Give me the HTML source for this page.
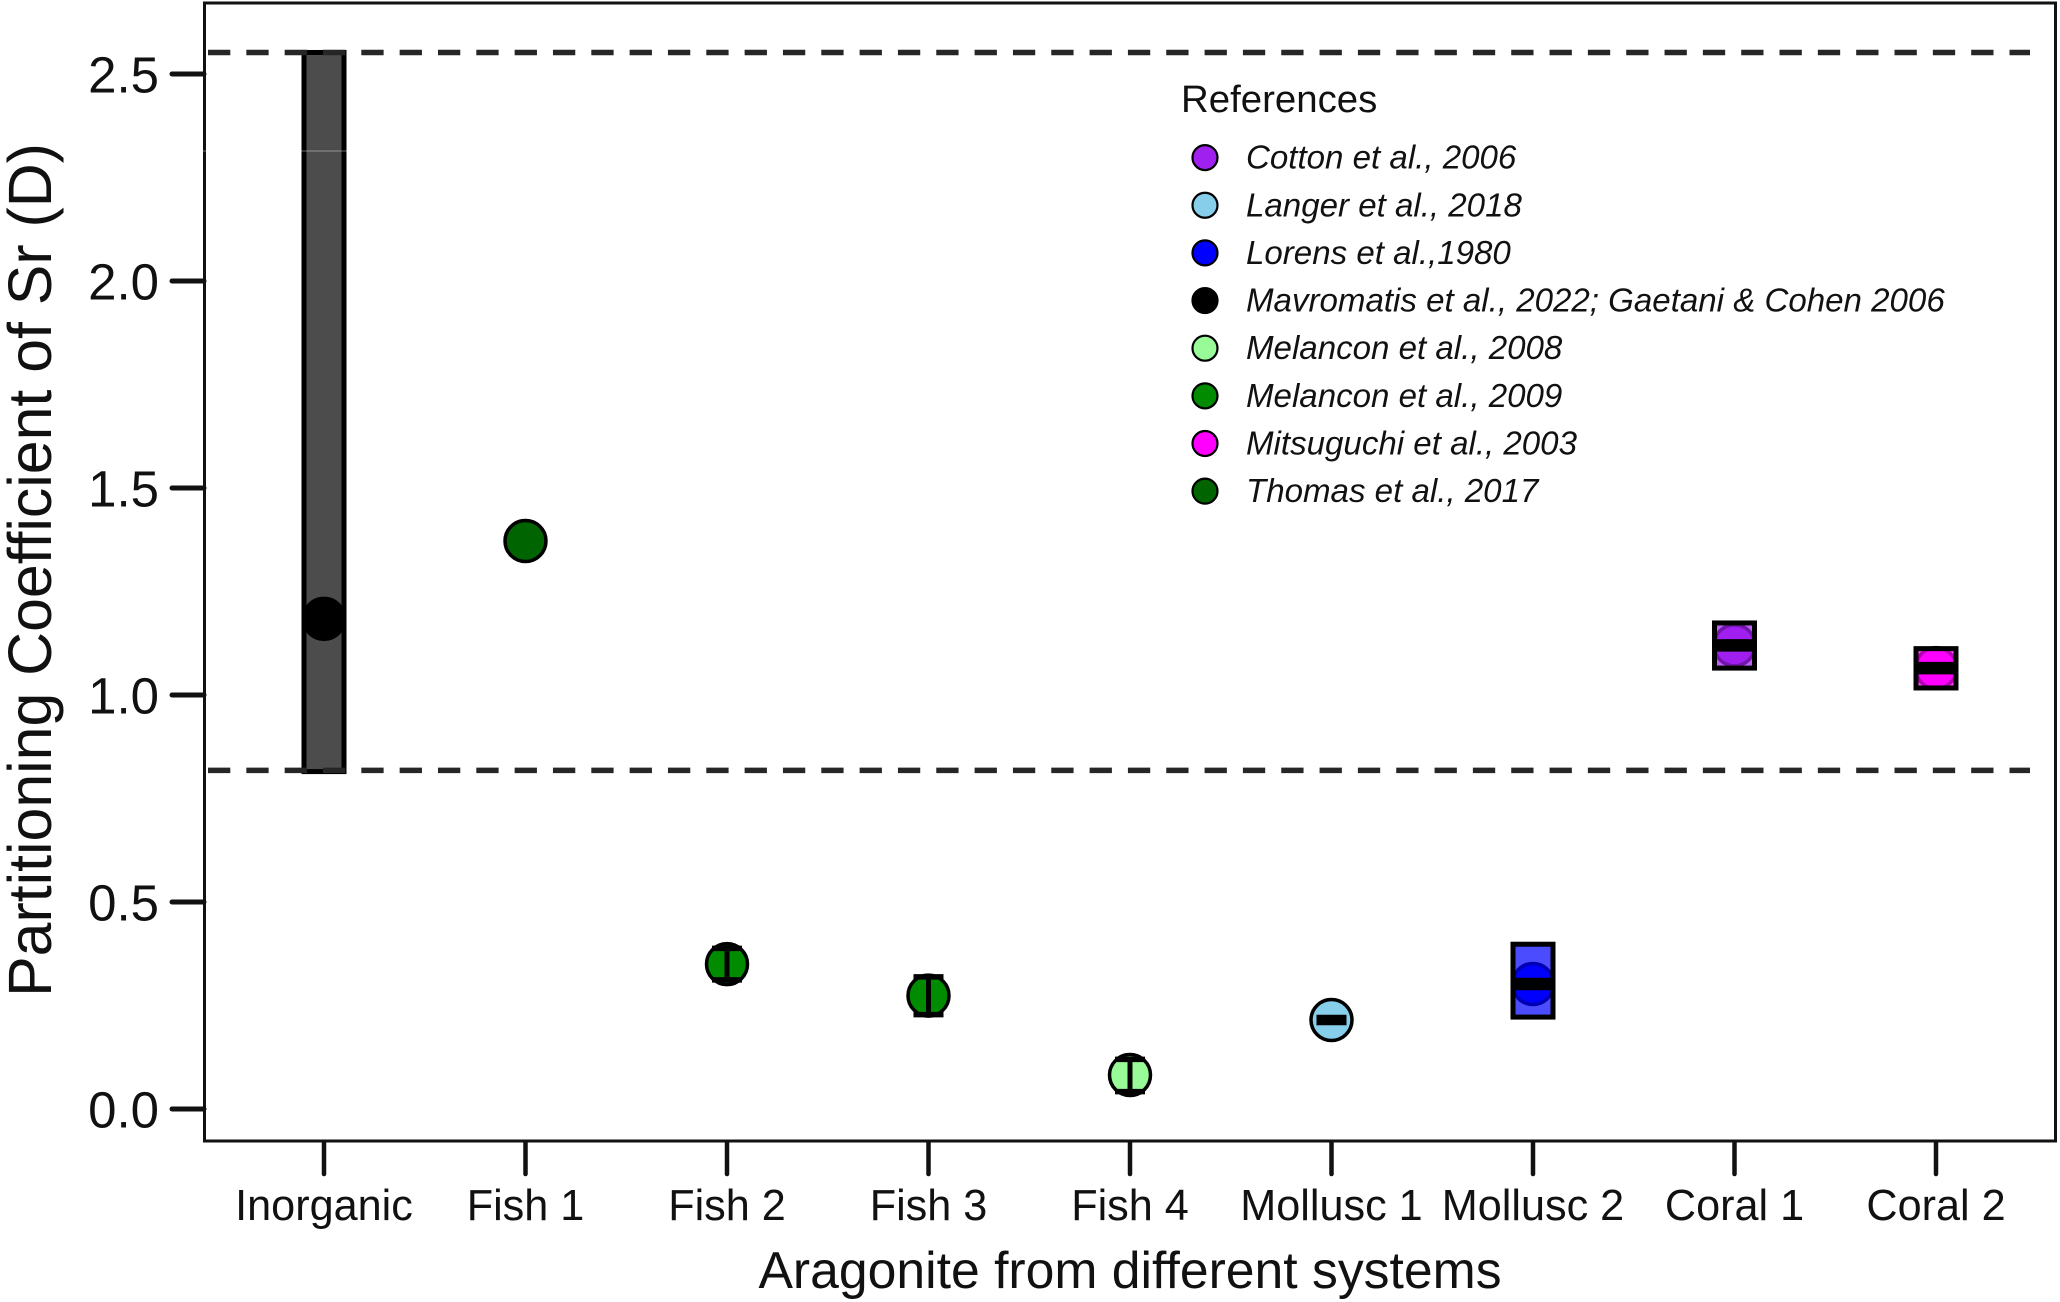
<!DOCTYPE html>
<html lang="en">
<head>
<meta charset="utf-8">
<title>Partitioning Coefficient of Sr in Aragonite</title>
<style>
html,body{margin:0;padding:0;background:#fff;}
svg{display:block;}
text{font-family:"Liberation Sans",Arial,sans-serif;fill:#111;}
</style>
</head>
<body>
<svg id="chart" xmlns="http://www.w3.org/2000/svg" width="2060" height="1302" viewBox="0 0 2060 1302">
  <rect x="0" y="0" width="2060" height="1302" fill="#fff"/>
  <g id="layer-marks"></g>
  <g id="layer-refs"></g>
  <rect x="204.5" y="3" width="1851" height="1138" fill="none" stroke="#111" stroke-width="3"/>
  <line x1="200" x2="350" y1="151" y2="151" stroke="#fff" stroke-opacity="0.4" stroke-width="1"/>
  <g id="layer-axes"></g>
  <g id="layer-legend">
    <text x="1181" y="112" font-size="38.4">References</text>
  </g>
  <text transform="translate(51,570) rotate(-90)" text-anchor="middle" font-size="60.8">Partitioning Coefficient of Sr (D)</text>
  <text x="1130" y="1288" text-anchor="middle" font-size="51.7">Aragonite from different systems</text>
</svg>
<script>
const categories = ['Inorganic','Fish 1','Fish 2','Fish 3','Fish 4','Mollusc 1','Mollusc 2','Coral 1','Coral 2'];
const values = [1.184,1.372,0.350,0.274,0.082,0.215,0.302,1.120,1.065];
const lowers = [0.815,1.372,0.312,0.228,0.042,0.209,0.222,1.065,1.017];
const uppers = [2.552,1.372,0.388,0.319,0.120,0.221,0.398,1.174,1.112];
const intervalKinds = ['box','none','bar','bar','bar','bar','box','box','box'];
const sourceIndex = [3,7,5,5,4,1,2,0,6];
const legendLabels = ['Cotton et al., 2006','Langer et al., 2018','Lorens et al.,1980','Mavromatis et al., 2022; Gaetani & Cohen 2006','Melancon et al., 2008','Melancon et al., 2009','Mitsuguchi et al., 2003','Thomas et al., 2017'];
const legendColors = ['#a020f0','#87ceeb','#0000ff','#000000','#98fb98','#008b00','#ff00ff','#006400'];
const yTicks = [0,0.5,1,1.5,2,2.5];
const yTickLabels = ['0.0','0.5','1.0','1.5','2.0','2.5'];
const refLines = [2.552,0.818];

const NS = 'http://www.w3.org/2000/svg';
function xScale(i){ return 324 + i * 201.5; }
function yScale(v){ return 1109 - v * 414; }
function make(tag, parent, attrs){
  const el = document.createElementNS(NS, tag);
  for (const k in attrs) el.setAttribute(k, attrs[k]);
  parent.appendChild(el);
  return el;
}
function slug(s){ return s.toLowerCase().replace(/[^a-z0-9]+/g,'-').replace(/^-|-$/g,''); }

const marks = document.getElementById('layer-marks');
const refs = document.getElementById('layer-refs');
const axes = document.getElementById('layer-axes');
const legend = document.getElementById('layer-legend');

categories.forEach(function(cat, i){
  const cx = xScale(i);
  const color = legendColors[sourceIndex[i]];
  const kind = intervalKinds[i];
  const dot = make('circle', marks, {cx:cx, cy:yScale(values[i]), r:20.5, fill:color, stroke:'#000', 'stroke-width':3.5});
  
  
  if (kind === 'box') {
    const top = yScale(uppers[i]);
    const bottom = yScale(lowers[i]);
    const box = make('rect', marks, {x:cx-20, y:top, width:40, height:bottom-top, fill:color, 'fill-opacity':0.7, stroke:'#000', 'stroke-width':5});
    
    
    const mid = make('line', marks, {x1:cx-20, x2:cx+20, y1:yScale(values[i]), y2:yScale(values[i]), stroke:'#000', 'stroke-width':12.5});
    
    
  } else if (kind === 'bar') {
    const stem = make('line', marks, {x1:cx, x2:cx, y1:yScale(uppers[i]), y2:yScale(lowers[i]), stroke:'#000', 'stroke-width':5});
    
    
    const capTop = make('line', marks, {x1:cx-15, x2:cx+15, y1:yScale(uppers[i]), y2:yScale(uppers[i]), stroke:'#000', 'stroke-width':5.5});
    
    
    const capBottom = make('line', marks, {x1:cx-15, x2:cx+15, y1:yScale(lowers[i]), y2:yScale(lowers[i]), stroke:'#000', 'stroke-width':5.5});
    
    
  }
  const tick = make('line', axes, {x1:cx, x2:cx, y1:1142, y2:1174, stroke:'#111', 'stroke-width':4.5, 'stroke-linecap':'round'});
  
  
  const label = make('text', axes, {x:cx, y:1220, 'text-anchor':'middle', 'font-size':43.2});
  label.textContent = cat;
  
  
});

refLines.forEach(function(v, i){
  const line = make('line', refs, {x1:208, x2:2030, y1:yScale(v), y2:yScale(v), stroke:'#262626', 'stroke-width':5.5, 'stroke-dasharray':'22.3 16.03'});
  
  
});

yTicks.forEach(function(v, i){
  const y = yScale(v);
  const tick = make('line', axes, {x1:172, x2:204, y1:y, y2:y, stroke:'#111', 'stroke-width':5, 'stroke-linecap':'round'});
  
  
  const label = make('text', axes, {x:159, y:y+18.5, 'text-anchor':'end', 'font-size':51});
  label.textContent = yTickLabels[i];
  
  
});

legendLabels.forEach(function(name, i){
  const y = 157.6 + i * 47.65;
  const swatch = make('circle', legend, {cx:1205, cy:y, r:12.5, fill:legendColors[i], stroke:'#000', 'stroke-width':2.2});
  
  
  const label = make('text', legend, {x:1246, y:y+11, 'font-size':33.1, 'font-style':'italic'});
  label.textContent = name;
  
  
});
</script>
</body>
</html>
